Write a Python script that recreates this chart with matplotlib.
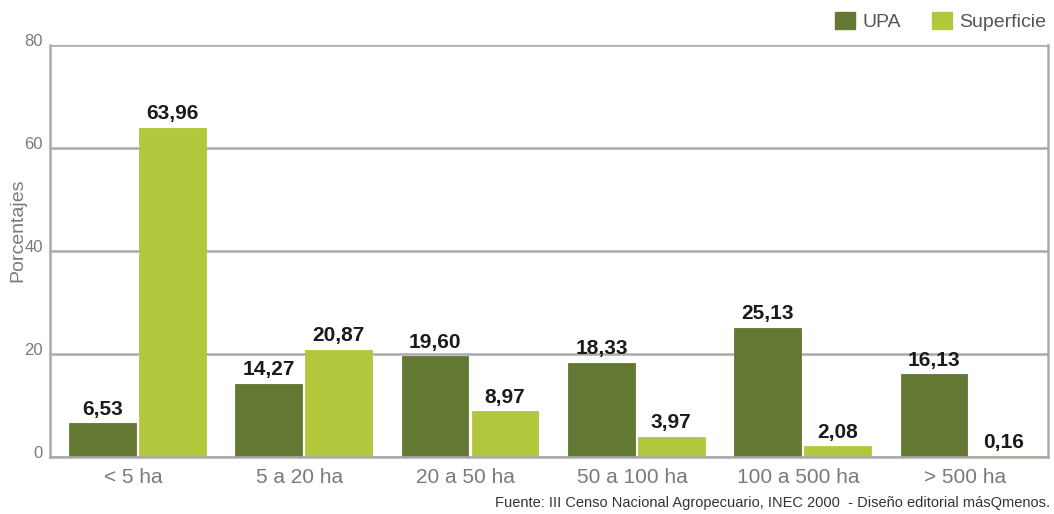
import matplotlib
matplotlib.use("Agg")
import matplotlib.pyplot as plt
import numpy as np
from matplotlib.patches import Patch
import matplotlib.transforms as mtransforms

categories = ["< 5 ha", "5 a 20 ha", "20 a 50 ha", "50 a 100 ha", "100 a 500 ha", "> 500 ha"]
upa = [6.53, 14.27, 19.60, 18.33, 25.13, 16.13]
superficie = [63.96, 20.87, 8.97, 3.97, 2.08, 0.16]
yticks = [0, 20, 40, 60, 80]

C_UPA = "#637833"
C_SUP = "#b3c73d"
GREY = "#7a7a7a"
FONT = ["Liberation Sans Narrow", "Liberation Sans", "DejaVu Sans"]
plt.rcParams["font.family"] = FONT

fig = plt.figure(figsize=(10.54, 5.14), dpi=100)
ax = fig.add_axes([50/1054, 57/514, 998/1054, 412/514])

x = np.arange(len(categories))
w = 0.40
b1 = ax.bar(x - 0.185, upa, width=w, color=C_UPA, edgecolor=C_UPA, linewidth=0.6)
b2 = ax.bar(x + 0.235, superficie, width=w, color=C_SUP, edgecolor=C_SUP, linewidth=0.6)

def fmt(v):
    return f"{v:.2f}".replace(".", ",")

for bars, vals in ((b1, upa), (b2, superficie)):
    for r, v in zip(bars, vals):
        ax.annotate(fmt(v), (r.get_x() + r.get_width()/2, v), xytext=(0, 3),
                    textcoords="offset points", ha="center", va="bottom",
                    fontsize=15, fontweight="bold", color="#1a1a1a")

ax.set_xlim(-0.5, 5.5)
ax.set_ylim(0, 80)
ax.set_yticks(yticks)
ax.set_yticklabels([str(t) for t in yticks])
ax.set_xticks(x)
ax.set_xticklabels(categories)
ax.yaxis.grid(True, color="#aaaaaa", linewidth=1.8)
ax.set_axisbelow(True)
ax.spines["top"].set_visible(False)
for s in ("left", "right", "bottom"):
    ax.spines[s].set_color("#aaaaaa")
    ax.spines[s].set_linewidth(1.8)
ax.tick_params(axis="both", length=0, colors=GREY)
ax.tick_params(axis="x", pad=8, labelsize=15)
ax.tick_params(axis="y", pad=5, labelsize=12)
offset = mtransforms.ScaledTranslation(0, 5/100, fig.dpi_scale_trans)
for lab in ax.get_yticklabels():
    lab.set_transform(lab.get_transform() + offset)

ax.set_ylabel("Porcentajes", color=GREY, fontsize=14)
ax.yaxis.set_label_coords(-0.024, 0.55)

handles = [Patch(color=C_UPA), Patch(color=C_SUP)]
fig.legend(handles, ["UPA", "Superficie"], loc="upper right", bbox_to_anchor=(1058/1054, 1.0),
           ncol=2, frameon=False, fontsize=14, handlelength=1.0, handleheight=1.0,
           columnspacing=1.6, handletextpad=0.4, labelcolor="#555555",
           borderaxespad=0.3, borderpad=0.3)

fig.text(1050/1054, 4/514, "Fuente: III Censo Nacional Agropecuario, INEC 2000  - Diseño editorial másQmenos.",
         ha="right", va="bottom", fontsize=10.5, color="#333333")

fig.savefig("out.png", dpi=100)
